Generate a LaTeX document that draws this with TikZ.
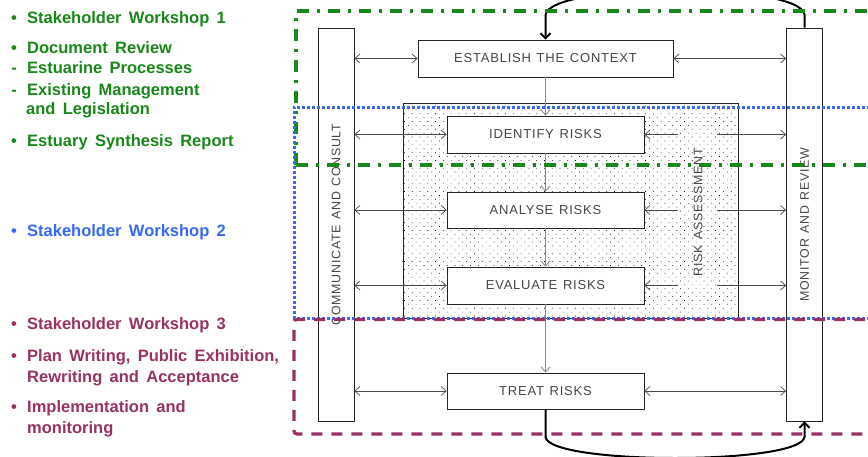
\documentclass[tikz,border=0pt]{standalone}
\usepackage{fontspec}
\setmainfont{Liberation Sans}
\newfontfamily\lf[WordSpace=1.6]{Liberation Sans}
\newfontfamily\bxf[LetterSpace=6,WordSpace=1.3]{Liberation Sans}
\usetikzlibrary{arrows.meta,patterns.meta}
\definecolor{grn}{RGB}{25,135,25}
\definecolor{blu}{RGB}{55,105,245}
\definecolor{pur}{RGB}{150,50,100}
\begin{document}
\begin{tikzpicture}[x=1pt,y=-1pt,
  box/.style={draw=black!85, line width=0.8pt, fill=white, inner sep=0pt,
    font=\bxf\fontsize{13}{16}\selectfont, text=black!72},
  vbox/.style={box, rotate=90, font=\bxf\fontsize{12.4}{15}\selectfont},
  lbl/.style={anchor=base west, inner sep=0pt, font=\lf\bfseries\fontsize{16.5}{20}\selectfont},
  bul/.style={anchor=base, inner sep=0pt, font=\lf\bfseries\fontsize{16.5}{20}\selectfont},
  harr/.style={draw=black!70, line width=0.7pt},
  varr/.style={draw=black!45, line width=0.9pt, -{Straight Barb[length=5pt,width=9pt]}},
  thick arr/.style={draw=black, line width=2pt, -{Straight Barb[length=5pt,width=10pt]}},
  vtxt/.style={inner sep=0pt, rotate=90, font=\bxf\fontsize{12.4}{15}\selectfont, text=black!72}
]
\useasboundingbox (0,0) rectangle (868,456);
\fill[white] (0,0) rectangle (868,456);

% shaded risk assessment area
\node[draw=black!85, line width=0.8pt, fill=white, minimum width=335pt, minimum height=215pt, inner sep=0pt] (ra) at (570.5,210.5) {};
\fill[pattern={Dots[distance=5.5pt, radius=0.5pt, angle=45]}, pattern color=black] (403.5,103.5) rectangle (737.5,317.5);
\node[vtxt] (ratxt) at (698,212) {RISK ASSESSMENT};

% side boxes
\node[vbox, minimum width=393pt, minimum height=36pt] (com) at (336,224.5) {COMMUNICATE AND CONSULT};
\node[vbox, minimum width=393pt, minimum height=36pt] (mon) at (804.5,224.5) {MONITOR AND REVIEW};

% process boxes
\node[box, minimum width=255pt, minimum height=37pt] (est) at (545.5,58.5) {ESTABLISH THE CONTEXT};
\node[box, minimum width=197pt, minimum height=37pt] (idr) at (545.5,134.5) {IDENTIFY RISKS};
\node[box, minimum width=197pt, minimum height=36pt] (anr) at (545.5,210) {ANALYSE RISKS};
\node[box, minimum width=197pt, minimum height=37pt] (evr) at (545.5,285.5) {EVALUATE RISKS};
\node[box, minimum width=197pt, minimum height=36pt] (trr) at (545.5,391) {TREAT RISKS};

% vertical arrows
\draw[varr] (est.south) -- (idr.north);
\draw[varr] (idr.south) -- (anr.north);
\draw[varr] (anr.south) -- (evr.north);
\draw[varr] (evr.south) -- (trr.north);

% gap coordinates around RISK ASSESSMENT text
\coordinate (gl) at (678,0);
\coordinate (gr) at (717,0);

% horizontal arrows
\draw[harr, {Straight Barb[length=5pt,width=9pt]}-{Straight Barb[length=5pt,width=9pt]}] (com.south |- est.west) -- (est.west);
\draw[harr, {Straight Barb[length=5pt,width=9pt]}-{Straight Barb[length=5pt,width=9pt]}] (est.east) -- (mon.north |- est.east);
\foreach \b in {idr,anr,evr}{
  \draw[harr, {Straight Barb[length=5pt,width=9pt]}-{Straight Barb[length=5pt,width=9pt]}] (com.south |- \b.west) -- (\b.west);
  \draw[harr, {Straight Barb[length=5pt,width=9pt]}-] (\b.east) -- (\b.east -| gl);
  \draw[harr, -{Straight Barb[length=5pt,width=9pt]}] (\b.east -| gr) -- (mon.north |- \b.east);
}
\draw[harr, {Straight Barb[length=5pt,width=9pt]}-{Straight Barb[length=5pt,width=9pt]}] (com.south |- trr.west) -- (trr.west);
\draw[harr, {Straight Barb[length=5pt,width=9pt]}-{Straight Barb[length=5pt,width=9pt]}] (trr.east) -- (mon.north |- trr.east);

% feedback curves
\draw[thick arr] (mon.east) -- ++(0,-13) .. controls (800,-18) and (550,-18) .. (545.5,15) -- (est.north);
\draw[thick arr] (trr.south) -- (545.5,437) .. controls (549,465) and (801,465) .. (804.5,437) -- (mon.west);

% phase regions
\draw[grn, line width=3.2pt, dash pattern=on 12pt off 8pt on 3pt off 8pt] (296,165) -- (296,11) -- (885,11);
\draw[grn, line width=3.2pt, dash pattern=on 12pt off 8pt on 3pt off 8pt] (296,165) -- (885,165);
\draw[blu, line width=3pt, dash pattern=on 2.6pt off 2.4pt] (885,107) -- (294,107) -- (294,318) -- (885,318);
\draw[pur, line width=3.2pt, dash pattern=on 11pt off 9pt, rounded corners=3pt] (885,319.5) -- (294,319.5) -- (294,434) -- (885,434);

% left texts
\node[bul, text=grn] (b1) at (14,23) {•};
\node[lbl, text=grn] (t1) at (27,23) {Stakeholder Workshop 1};
\node[bul, text=grn] (b2) at (14,53) {•};
\node[lbl, text=grn] (t2) at (27,53) {Document Review};
\node[bul, text=grn] (b3) at (14,73) {-};
\node[lbl, text=grn] (t3) at (27,73) {Estuarine Processes};
\node[bul, text=grn] (b4) at (14,95) {-};
\node[lbl, text=grn] (t4) at (27,95) {Existing Management};
\node[lbl, text=grn] (t5) at (26,114) {and Legislation};
\node[bul, text=grn] (b6) at (14,146) {•};
\node[lbl, text=grn] (t6) at (27,146) {Estuary Synthesis Report};

\node[bul, text=blu] (b7) at (14,236) {•};
\node[lbl, text=blu] (t7) at (27,236) {Stakeholder Workshop 2};

\node[bul, text=pur] (b8) at (14,329) {•};
\node[lbl, text=pur] (t8) at (27,329) {Stakeholder Workshop 3};
\node[bul, text=pur] (b9) at (14,361) {•};
\node[lbl, text=pur] (t9) at (27,361) {Plan Writing, Public Exhibition,};
\node[lbl, text=pur] (t10) at (27,382) {Rewriting and Acceptance};
\node[bul, text=pur] (b11) at (14,412) {•};
\node[lbl, text=pur] (t11) at (27,412) {Implementation and};
\node[lbl, text=pur] (t12) at (27,433) {monitoring};
\end{tikzpicture}
\end{document}
